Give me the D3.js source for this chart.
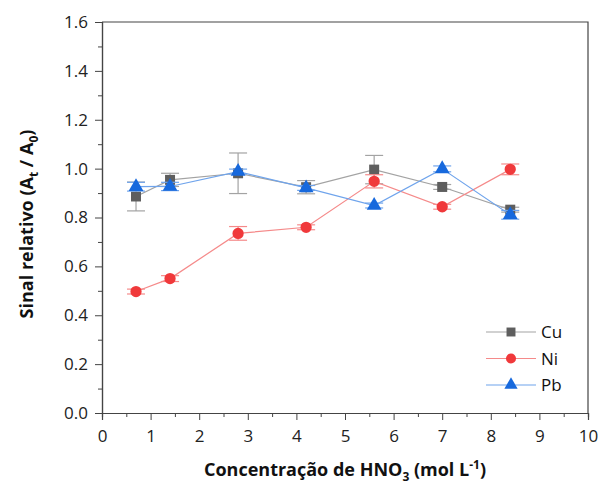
<!DOCTYPE html>
<html>
<head>
<meta charset="utf-8">
<script src="https://cdn.jsdelivr.net/npm/d3@7"></script>
<style>
  body { margin: 0; background: #fff; }
  text { font-family: "Open Sans", "Liberation Sans", sans-serif; }
</style>
</head>
<body>
<svg id="chart" width="601" height="489"></svg>
<script>
// HNO3 concentration (mol/L)
const conc = [0.7, 1.4, 2.8, 4.2, 5.6, 7.0, 8.4];

const cuVals = [0.886, 0.954, 0.981, 0.924, 0.996, 0.925, 0.832];
const cuErr  = [0.059, 0.027, 0.083, 0.027, 0.058, 0.010, 0.010];
const niVals = [0.497, 0.550, 0.735, 0.760, 0.948, 0.844, 0.997];
const niErr  = [0.010, 0.012, 0.028, 0.010, 0.027, 0.010, 0.022];
const pbVals = [0.926, 0.927, 0.988, 0.921, 0.849, 0.999, 0.811];
const pbErr  = [0.018, 0.017, 0.010, 0.010, 0.010, 0.012, 0.018];

const xTicks = [0, 1, 2, 3, 4, 5, 6, 7, 8, 9, 10];
const yTicks = [0, 0.2, 0.4, 0.6, 0.8, 1.0, 1.2, 1.4, 1.6];

const series = [
    { name: "Cu", vals: cuVals, err: cuErr, marker: "#5e5e5e", line: "#a3a3a3", shape: d3.symbolSquare, size: 100 },
    { name: "Ni", vals: niVals, err: niErr, marker: "#f0393b", line: "#f58a8a", shape: d3.symbolCircle, size: 100 },
    { name: "Pb", vals: pbVals, err: pbErr, marker: "#1769dd", line: "#6fa4ec", shape: d3.symbolTriangle, size: 95 }
];

const svg = d3.select("#chart");
const pLeft = 102, pRight = 588, pTop = 22, pBottom = 413;

const x = d3.scaleLinear().domain([0, 10]).range([pLeft, pRight]);
const y = d3.scaleLinear().domain([0, 1.6]).range([pBottom, pTop]);

// frame (top and right)
svg.append("path")
    .attr("d", `M${pLeft},${pTop}H${pRight}V${pBottom}`)
    .attr("fill", "none")
    .attr("stroke", "#444")
    .attr("stroke-width", 1.2);

// x axis
const xAxis = svg.append("g").attr("transform", `translate(0,${pBottom})`);
xAxis.call(d3.axisBottom(x).tickValues(d3.range(0.5, 10, 1)).tickSize(4).tickFormat(""));
xAxis.append("g").call(d3.axisBottom(x).tickValues(xTicks).tickSize(7).tickPadding(10).tickFormat(d3.format("d")));

// y axis
const yAxis = svg.append("g").attr("transform", `translate(${pLeft},0)`);
yAxis.call(d3.axisLeft(y).tickValues(d3.range(0.1, 1.6, 0.2)).tickSize(4).tickFormat(""));
yAxis.append("g").call(d3.axisLeft(y).tickValues(yTicks).tickSize(7).tickPadding(7).tickFormat(d3.format(".1f")));

svg.selectAll(".domain").attr("stroke", "#444").attr("stroke-width", 1.2);
svg.selectAll(".tick line").attr("stroke", "#444");
svg.selectAll(".tick text").attr("font-size", 17).attr("fill", "#222")
    .style("font-family", "'Open Sans', sans-serif");

// axis titles
const xt = svg.append("text")
    .attr("x", 345).attr("y", 476)
    .attr("text-anchor", "middle")
    .attr("font-size", 18).attr("font-weight", "bold").attr("fill", "#111");
xt.append("tspan").text("Concentração de HNO");
xt.append("tspan").attr("font-size", 12).attr("dy", 5).text("3");
xt.append("tspan").attr("dy", -5).text(" (mol L");
xt.append("tspan").attr("font-size", 12).attr("dy", -7).text("-1");
xt.append("tspan").attr("dy", 7).text(")");

const yt = svg.append("text")
    .attr("transform", "translate(33,224) rotate(-90)")
    .attr("text-anchor", "middle")
    .attr("font-size", 18).attr("font-weight", "bold").attr("fill", "#111");
yt.append("tspan").text("Sinal relativo (A");
yt.append("tspan").attr("font-size", 12).attr("dy", 5).text("t");
yt.append("tspan").attr("dy", -5).text(" / A");
yt.append("tspan").attr("font-size", 12).attr("dy", 5).text("0");
yt.append("tspan").attr("dy", -5).text(")");

// series
const line = d3.line().x(d => x(d.c)).y(d => y(d.v));

series.forEach(s => {
    const pts = conc.map((c, i) => ({ c, v: s.vals[i], e: s.err[i] }));
    const g = svg.append("g");

    g.append("path")
        .datum(pts)
        .attr("fill", "none")
        .attr("stroke", s.line)
        .attr("stroke-width", 1.2)
        .attr("d", line);

    const eb = g.selectAll(".eb").data(pts).join("g").attr("stroke", s.line).attr("stroke-width", 1.2);
    eb.append("line")
        .attr("x1", d => x(d.c)).attr("x2", d => x(d.c))
        .attr("y1", d => y(d.v - d.e)).attr("y2", d => y(d.v + d.e));
    eb.append("line")
        .attr("x1", d => x(d.c) - 9).attr("x2", d => x(d.c) + 9)
        .attr("y1", d => y(d.v + d.e)).attr("y2", d => y(d.v + d.e));
    eb.append("line")
        .attr("x1", d => x(d.c) - 9).attr("x2", d => x(d.c) + 9)
        .attr("y1", d => y(d.v - d.e)).attr("y2", d => y(d.v - d.e));

    g.selectAll(".m").data(pts).join("path")
        .attr("transform", d => `translate(${x(d.c)},${y(d.v)})`)
        .attr("d", d3.symbol(s.shape, s.size))
        .attr("fill", s.marker);
});

// legend
const leg = svg.append("g");
series.forEach((s, i) => {
    const ly = 332 + i * 26.5;
    leg.append("line")
        .attr("x1", 486).attr("x2", 536)
        .attr("y1", ly).attr("y2", ly)
        .attr("stroke", s.line).attr("stroke-width", 1.2);
    leg.append("path")
        .attr("transform", `translate(511,${ly})`)
        .attr("d", d3.symbol(s.shape, s.size * 0.8))
        .attr("fill", s.marker);
    leg.append("text")
        .attr("x", 541).attr("y", ly + 6)
        .attr("font-size", 17).attr("fill", "#111")
        .text(s.name);
});
</script>
</body>
</html>
